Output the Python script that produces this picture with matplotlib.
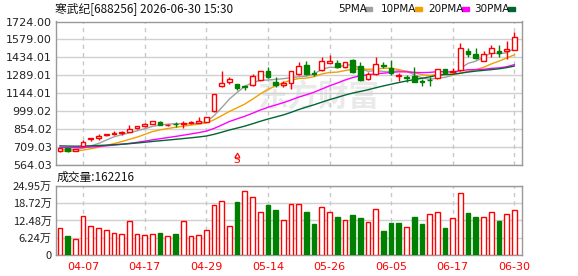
#K-line chart of 寒武纪 with moving averages and volume
import matplotlib
matplotlib.use("Agg")
import matplotlib.pyplot as plt
from matplotlib.patches import Rectangle

#Daily prices (open, high, low, close)
opens = [672, 699, 678, 715, 769, 778, 802, 812, 820, 831,
         858, 874, 893, 909, 883, 895, 891, 899, 904, 912,
         996, 1200, 1233, 1214, 1201, 1209, 1249, 1324, 1235, 1206,
         1227, 1298, 1373, 1306, 1330, 1389, 1384, 1356, 1411, 1365,
         1255, 1297, 1368, 1344, 1285, 1275, 1284, 1240, 1252, 1263,
         1336, 1318, 1330, 1486, 1459, 1405, 1465, 1486, 1484, 1497]
highs = [700, 701, 692, 764, 782, 812, 815, 839, 839, 885,
         880, 900, 918, 920, 890, 909, 920, 915, 947, 950,
         1136, 1325, 1271, 1218, 1211, 1298, 1325, 1357, 1276, 1238,
         1322, 1397, 1405, 1330, 1437, 1451, 1416, 1398, 1424, 1397,
         1316, 1433, 1397, 1411, 1303, 1290, 1354, 1257, 1276, 1340,
         1340, 1344, 1546, 1506, 1506, 1484, 1532, 1532, 1565, 1635]
lows = [668, 665, 676, 712, 758, 764, 798, 806, 807, 828,
        855, 870, 890, 885, 880, 871, 858, 895, 900, 908,
        990, 1190, 1217, 1168, 1168, 1205, 1245, 1268, 1190, 1190,
        1179, 1293, 1290, 1281, 1325, 1384, 1348, 1350, 1303, 1245,
        1249, 1293, 1344, 1290, 1241, 1235, 1230, 1203, 1201, 1258,
        1300, 1303, 1325, 1438, 1420, 1400, 1438, 1438, 1424, 1490]
closes = [697, 675, 688, 745, 778, 794, 810, 822, 830, 853,
          877, 896, 915, 887, 888, 892, 899, 909, 915, 947,
          1134, 1224, 1260, 1182, 1193, 1281, 1322, 1271, 1209, 1222,
          1319, 1362, 1295, 1300, 1405, 1405, 1352, 1392, 1316, 1249,
          1295, 1376, 1363, 1303, 1292, 1270, 1235, 1235, 1248, 1336,
          1303, 1322, 1506, 1459, 1425, 1457, 1506, 1465, 1500, 1595]

#Volume in 万 shares and its bar colour (r = up, g = down)
volume = [9.93, 6.78, 5.93, 14.05, 10.4, 9.69, 8.96, 7.87, 7.51, 12.23,
          7.51, 7.14, 7.51, 7.87, 6.78, 7.51, 12.23, 6.78, 7.14, 8.96,
          18.0, 19.7, 10.66, 19.1, 23.0, 20.8, 15.7, 18.0, 16.2, 12.5,
          18.6, 18.3, 15.5, 11.1, 17.2, 15.4, 13.7, 12.5, 14.4, 13.3,
          12.1, 16.5, 8.6, 11.5, 11.5, 10.3, 13.7, 11.1, 15.0, 15.4,
          9.7, 13.2, 22.3, 15.1, 13.7, 13.9, 15.7, 12.2, 15.0, 16.2216]
vol_dir = "rgrrrrrrrrrrrgrgrrrrrrrgrrrggrrrggrrgrggrrgggrggrrgrrggrrgrr"

#Axis labels
tick_pos = [3, 11, 19, 27, 35, 43, 51, 59]
tick_labels = ["04-07", "04-17", "04-29", "05-14", "05-26", "06-05", "06-17", "06-30"]
price_ticks = [564.03, 709.03, 854.02, 999.02, 1144.01, 1289.01, 1434.01, 1579.00, 1724.00]
vol_ticks = [0, 6.24, 12.48, 18.72, 24.95]
vol_labels = ["0", "6.24万", "12.48万", "18.72万", "24.95万"]

#Moving averages: periods, colours and their level at the left edge of the chart
ma_periods = [5, 10, 20, 30]
ma_colors = ["#a0a0a0", "#f0a000", "#ff00ff", "#006633"]
ma_start = [685, 670, 704, 717]

RED = "#ff0000"
GREEN = "#008000"
GRID = "#d0d0d0"
FRAME = "#999999"
CJK = ["Noto Sans CJK SC", "DejaVu Sans"]

W, H = 578, 276
fig = plt.figure(figsize=(W / 100, H / 100), dpi=100)
fig.patch.set_facecolor("white")

def axes_px(left, top, right, bottom):
    return fig.add_axes([left / W, 1 - bottom / H, (right - left) / W, (bottom - top) / H])

ax = axes_px(56, 21.5, 522, 164.7)
axv = axes_px(56, 186, 522, 255)

n = len(closes)
x = list(range(n))
xlim = (-0.52, 60.0)

#Watermark
ax.text(41.5, 1112, "东方财富", fontsize=22, color="#eaeaea", family=CJK,
        ha="right", va="center", zorder=0, fontweight="bold")

#Candles
for i in x:
    up = closes[i] >= opens[i]
    c = RED if up else GREEN
    ax.vlines(i, lows[i], highs[i], color=c, lw=1, zorder=3)
    lo = min(opens[i], closes[i])
    h = max(abs(closes[i] - opens[i]), 1)
    ax.bar(i, h, bottom=lo, width=0.62, facecolor="white" if up else GREEN,
           edgecolor=c, lw=1, zorder=4)

#Moving averages, days before the chart taken at the starting level
for p, col, start in zip(ma_periods, ma_colors, ma_start):
    ma = []
    for i in x:
        window = closes[max(0, i - p + 1):i + 1]
        ma.append((sum(window) + (p - len(window)) * start) / p)
    ax.plot(x, ma, color=col, lw=1, zorder=2)

#S marker
ax.text(23, 600, "S", color=RED, fontsize=7.5, ha="center", va="center", zorder=5)
ax.plot(23, 642, marker="^", ms=3.5, mfc="white", mec=RED, mew=0.8, zorder=5)

ax.set_ylim(564.03, 1724.00)
ax.set_yticks(price_ticks)
ax.set_yticklabels(["%.2f" % t for t in price_ticks])

#Volume bars
for i in x:
    if vol_dir[i] == "r":
        axv.bar(i, volume[i], width=0.62, facecolor="white", edgecolor=RED, lw=1, zorder=3)
    else:
        axv.bar(i, volume[i], width=0.62, facecolor=GREEN, edgecolor=GREEN, lw=1, zorder=3)
axv.set_ylim(0, 24.95)
axv.set_yticks(vol_ticks)
axv.set_yticklabels(vol_labels, family=CJK)

for a in (ax, axv):
    a.set_xlim(*xlim)
    a.set_xticks(tick_pos)
    a.grid(axis="y", color=GRID, lw=1, zorder=0)
    for t in tick_pos:
        a.axvline(t, color="#c8c8c8", lw=1, ls=(0, (3, 3)), zorder=1)
    for sp in a.spines.values():
        sp.set_color(FRAME)
        sp.set_linewidth(1)
    a.tick_params(length=0, labelsize=8, pad=3, colors="#222222")
    a.set_axisbelow(True)

ax.set_xticklabels([])
axv.set_xticklabels(tick_labels, color=RED)
axv.tick_params(axis="x", pad=5, labelcolor=RED)

#Header texts
fig.text(55 / W, 1 - 9 / H, "寒武纪[688256] 2026-06-30 15:30", family=CJK,
         fontsize=8.5, va="center", ha="left", color="#111111")
fig.text(57 / W, 1 - 177 / H, "成交量:162216", family=CJK,
         fontsize=8.5, va="center", ha="left", color="#111111")

#Legend of moving averages
leg_x = [338, 381, 428, 474]
for p, col, lx in zip(ma_periods, ma_colors, leg_x):
    fig.text(lx / W, 1 - 9 / H, "%dPMA" % p, fontsize=7.5, va="center",
             ha="left", color="#111111")
    mx = lx + (27 if p == 5 else 34)
    fig.patches.append(Rectangle((mx / W, 1 - 11 / H), 7 / W, 4 / H,
                                 transform=fig.transFigure, color=col))

fig.savefig("out.png", dpi=100)
